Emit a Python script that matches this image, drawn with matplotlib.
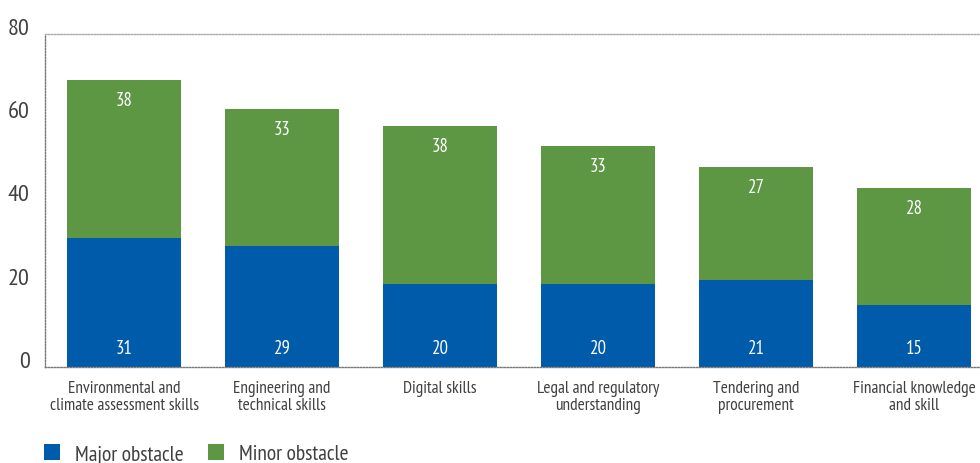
import matplotlib
matplotlib.use("Agg")
import matplotlib.pyplot as plt
from matplotlib.patches import Patch

categories = ["Environmental and\nclimate assessment skills",
              "Engineering and\ntechnical skills",
              "Digital skills",
              "Legal and regulatory\nunderstanding",
              "Tendering and\nprocurement",
              "Financial knowledge\nand skill"]
major = [31, 29, 20, 20, 21, 15]
minor = [38, 33, 38, 33, 27, 28]
yticks = [0, 20, 40, 60, 80]

blue = "#005BAA"
green = "#5E9744"
txt = "#404040"

plt.rcParams['font.family'] = ['PT Sans Narrow', 'Archivo Narrow', 'DejaVu Sans']

fig = plt.figure(figsize=(9.8, 4.64), dpi=100)
W, H = 980, 464
ax = fig.add_axes([45 / W, 1 - 368 / H, 948 / W, 333 / H])

x = list(range(len(categories)))
ax.bar(x, major, width=0.72, color=blue, zorder=2)
ax.bar(x, minor, width=0.72, bottom=major, color=green, zorder=2)

for i in x:
    ax.annotate(str(major[i]), (i, 0), xytext=(0, 19), textcoords='offset pixels',
                ha='center', va='center', color='white', fontsize=13.5)
    ax.annotate(str(minor[i]), (i, major[i] + minor[i]), xytext=(0, -20),
                textcoords='offset pixels', ha='center', va='center',
                color='white', fontsize=13.5)

ax.set_xlim(-0.5, 5.5)
ax.set_ylim(0, 80)
ax.set_yticks(yticks)
ax.set_yticklabels([str(v) for v in yticks], fontsize=17.5, color=txt)
for lab in ax.get_yticklabels():
    lab.set_verticalalignment('baseline')
ax.set_xticks(x)
ax.set_xticklabels(categories, fontsize=12.4, color=txt, linespacing=1.05)
ax.tick_params(axis='both', length=0)
ax.tick_params(axis='x', pad=9.5)
ax.tick_params(axis='y', pad=11)

ax.spines['right'].set_visible(False)
for s, c in [('top', '#aaaaaa'), ('left', '#777777'), ('bottom', '#777777')]:
    ax.spines[s].set_linestyle((0, (1, 1.2)))
    ax.spines[s].set_color(c)
    ax.spines[s].set_linewidth(1.0)

handles = [Patch(facecolor=blue, label="Major obstacle"),
           Patch(facecolor=green, label="Minor obstacle")]
fig.legend(handles=handles, loc='lower left', bbox_to_anchor=(44 / W, -1 / H),
           ncol=2, frameon=False, fontsize=15.5, handlelength=0.75, handleheight=0.75,
           handletextpad=0.7, columnspacing=1.1, borderpad=0, borderaxespad=0,
           labelcolor=txt)

fig.savefig("out.png", dpi=100)
